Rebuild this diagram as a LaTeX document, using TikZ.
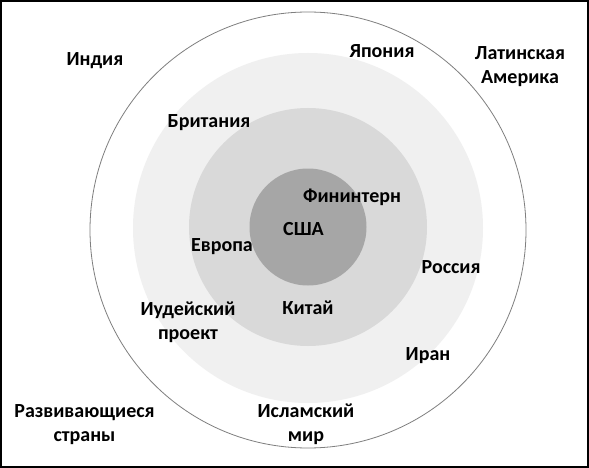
\documentclass[tikz,border=0pt]{standalone}
\usepackage{fontspec}
\setmainfont{Carlito}
\usetikzlibrary{positioning}
\definecolor{ringlight}{HTML}{F0F0F0}
\definecolor{ringmid}{HTML}{D9D9D9}
\definecolor{ringdark}{HTML}{A6A6A6}
\definecolor{rimgray}{HTML}{7F7F7F}

\begin{document}
\begin{tikzpicture}[x=1pt,y=-1pt,
  lbl/.style={font=\fontsize{20}{24}\selectfont\bfseries,align=center,anchor=base,inner sep=0pt}]
  \useasboundingbox (0,0) rectangle (589,468);

  % Frame
  \fill[white] (0,0) rectangle (589,468);
  \draw[line width=2pt] (1,1) rectangle (588,467);

  % Rings (outer to inner)
  \draw[rimgray,line width=0.8pt,fill=white] (308,230) circle (218pt);
  \fill[ringlight] (308,228) circle (175pt);
  \fill[ringmid] (308,227) circle (119pt);
  \fill[ringdark] (308,227) circle (58.5pt);

  % Outer zone (two-line labels: base = last line)
  \node[lbl] (india) at (95,65.7) {Индия};
  \node[lbl] (japan) at (382,57.5) {Япония};
  \node[lbl] (latam) at (520,83.2) {Латинская\\Америка};
  \node[lbl] (devel) at (84.5,441) {Развивающиеся\\страны};
  \node[lbl] (islam) at (306,441) {Исламский\\мир};

  % Light ring
  \node[lbl] (brit) at (209,127.5) {Британия};
  \node[lbl] (russia) at (451,273.8) {Россия};
  \node[lbl] (judea) at (188,339.8) {Иудейский\\проект};
  \node[lbl] (iran) at (428,360.5) {Иран};

  % Middle ring
  \node[lbl] (finint) at (352,202.5) {Фининтерн};
  \node[lbl] (europe) at (222,251.5) {Европа};
  \node[lbl] (china) at (308,314.8) {Китай};

  % Core
  \node[lbl] (usa) at (303.5,235.5) {США};
\end{tikzpicture}
\end{document}
